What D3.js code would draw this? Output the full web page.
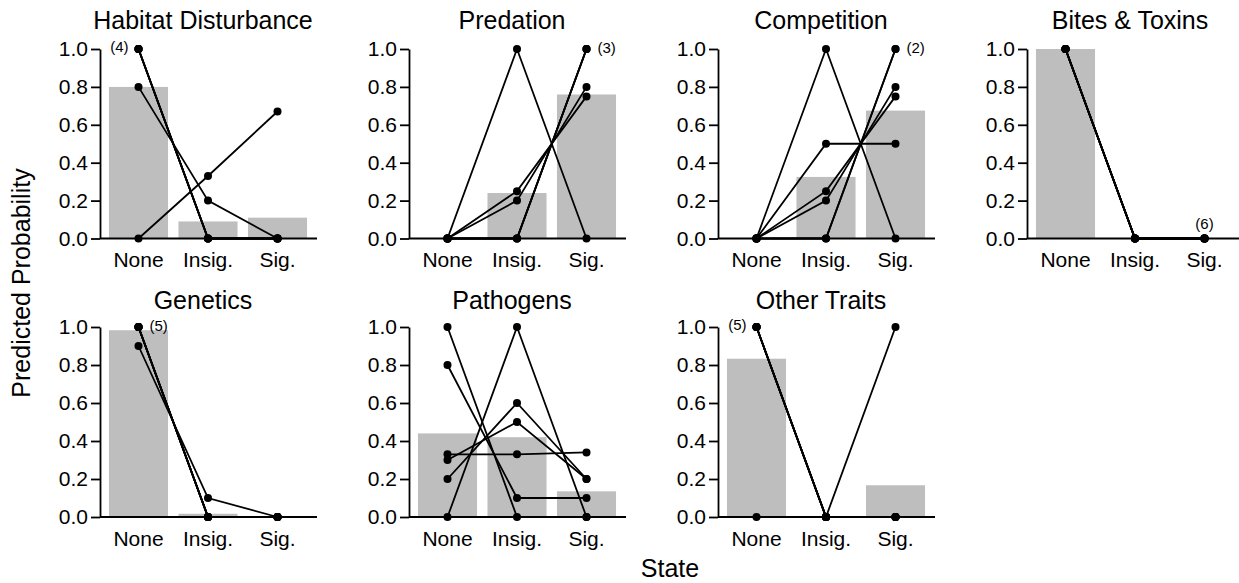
<!DOCTYPE html>
<html>
<head>
<meta charset="utf-8">
<script src="https://cdn.jsdelivr.net/npm/d3@7"></script>
<style>
  body { margin: 0; background: #fff; }
  text { font-family: "Liberation Sans", Arial, Helvetica, sans-serif; fill: #000; }
</style>
</head>
<body>
<svg id="chart" width="1239" height="583"></svg>
<script>
// states on the x axis
const states = ["None", "Insig.", "Sig."];
const yTicks = [0, 0.2, 0.4, 0.6, 0.8, 1.0];

const panelTitles = ["Habitat Disturbance", "Predation", "Competition", "Bites & Toxins",
                     "Genetics", "Pathogens", "Other Traits"];

// grey bars: mean predicted probability per state
const habitatMeans    = [0.80, 0.09, 0.11];
const predationMeans  = [0.00, 0.24, 0.76];
const competitionMeans= [0.00, 0.325, 0.675];
const bitesMeans      = [1.00, 0.00, 0.00];
const geneticsMeans   = [0.983, 0.017, 0.00];
const pathogensMeans  = [0.44, 0.42, 0.135];
const otherMeans      = [0.833, 0.00, 0.167];

// one row per species: probability of None / Insig. / Sig.
const habitatObs = [[1,0,0],[1,0,0],[1,0,0],[1,0,0],[0.8,0.2,0],[0,0.33,0.67]];
const predationObs = [[0,1,0],[0,0,1],[0,0,1],[0,0,1],[0,0.2,0.8],[0,0.25,0.75]];
const competitionObs = [[0,1,0],[0,0,1],[0,0,1],[0,0.5,0.5],[0,0.2,0.8],[0,0.25,0.75]];
const bitesObs = [[1,0,0],[1,0,0],[1,0,0],[1,0,0],[1,0,0],[1,0,0]];
const geneticsObs = [[1,0,0],[1,0,0],[1,0,0],[1,0,0],[1,0,0],[0.9,0.1,0]];
const pathogensObs = [[1,0,0],[0.8,0.1,0.1],[0.33,0.33,0.34],[0.3,0.5,0.2],[0.2,0.6,0.2],[0,1,0]];
const otherObs = [[1,0,0],[1,0,0],[1,0,0],[1,0,0],[1,0,0],[0,0,1]];

// count labels for stacked identical points
const habitatNote     = {state: "None", value: 1, label: "(4)", side: "left"};
const predationNote   = {state: "Sig.", value: 1, label: "(3)", side: "right"};
const competitionNote = {state: "Sig.", value: 1, label: "(2)", side: "right"};
const bitesNote       = {state: "Sig.", value: 0, label: "(6)", side: "top"};
const geneticsNote    = {state: "None", value: 1, label: "(5)", side: "right"};
const otherNote       = {state: "None", value: 1, label: "(5)", side: "left"};

const panels = [
  {title: panelTitles[0], means: habitatMeans, obs: habitatObs, note: habitatNote},
  {title: panelTitles[1], means: predationMeans, obs: predationObs, note: predationNote},
  {title: panelTitles[2], means: competitionMeans, obs: competitionObs, note: competitionNote},
  {title: panelTitles[3], means: bitesMeans, obs: bitesObs, note: bitesNote},
  {title: panelTitles[4], means: geneticsMeans, obs: geneticsObs, note: geneticsNote},
  {title: panelTitles[5], means: pathogensMeans, obs: pathogensObs, note: null},
  {title: panelTitles[6], means: otherMeans, obs: otherObs, note: otherNote}
];

const svg = d3.select("#chart");
const colStep = 309, firstAxisX = 100;
const rowTop = [49, 327], rowBottom = [238.5, 517];

const drawPanel = (p, i) => {
  const col = i % 4, row = Math.floor(i / 4);
  const ax = firstAxisX + col * colStep;

  const x = d3.scaleBand()
    .domain(states)
    .range([ax + 3.75, ax + 212.25])
    .paddingInner(0.15)
    .paddingOuter(0.075);
  const cx = (s) => x(s) + x.bandwidth() / 2;
  const y = d3.scaleLinear().domain([0, 1]).range([rowBottom[row], rowTop[row]]);

  const g = svg.append("g");

  g.append("text")
    .attr("x", ax + 103)
    .attr("y", row === 0 ? 29 : 309)
    .attr("text-anchor", "middle")
    .style("font-size", "25px")
    .text(p.title);

  g.selectAll("rect.bar")
    .data(p.means)
    .join("rect")
    .attr("class", "bar")
    .attr("x", (d, j) => x(states[j]))
    .attr("width", x.bandwidth())
    .attr("y", d => y(d))
    .attr("height", d => y(0) - y(d))
    .attr("fill", "#bebebe");

  // y axis
  const ya = g.append("g")
    .attr("transform", `translate(${ax},0)`)
    .call(d3.axisLeft(y).tickValues(yTicks).tickFormat(d3.format(".1f"))
      .tickSize(9).tickSizeOuter(0).tickPadding(3));
  ya.selectAll("path, line").attr("stroke", "#000").attr("stroke-width", 1.8);
  ya.selectAll("text").style("font-size", "21px");

  // x axis: labels only, plus a plain baseline
  const xa = g.append("g")
    .attr("transform", `translate(0,${y(0)})`)
    .call(d3.axisBottom(x).tickSize(0).tickPadding(14));
  xa.select(".domain").remove();
  xa.selectAll("text").style("font-size", "21px");
  g.append("line")
    .attr("x1", ax).attr("x2", ax + 217)
    .attr("y1", y(0)).attr("y2", y(0))
    .attr("stroke", "#000").attr("stroke-width", 1.8);

  const line = d3.line()
    .x((d, j) => cx(states[j]))
    .y(d => y(d));

  g.selectAll("path.obs")
    .data(p.obs)
    .join("path")
    .attr("class", "obs")
    .attr("d", line)
    .attr("fill", "none")
    .attr("stroke", "#000")
    .attr("stroke-width", 1.8);

  const pts = p.obs.flatMap(o => o.map((v, j) => ({s: states[j], v})));
  g.selectAll("circle")
    .data(pts)
    .join("circle")
    .attr("cx", d => cx(d.s))
    .attr("cy", d => y(d.v))
    .attr("r", 4)
    .attr("fill", "#000");

  if (p.note) {
    const n = p.note;
    const t = g.append("text").style("font-size", "15px").text(n.label);
    if (n.side === "left") {
      t.attr("x", cx(n.state) - 10).attr("y", y(n.value) - 2)
        .attr("dy", "0.32em").attr("text-anchor", "end");
    } else if (n.side === "right") {
      t.attr("x", cx(n.state) + 11).attr("y", y(n.value) - 1)
        .attr("dy", "0.32em").attr("text-anchor", "start");
    } else {
      t.attr("x", cx(n.state)).attr("y", y(n.value) - 10)
        .attr("text-anchor", "middle");
    }
  }
};

panels.forEach(drawPanel);

svg.append("text")
  .attr("transform", "translate(30,283) rotate(-90)")
  .attr("text-anchor", "middle")
  .style("font-size", "25px")
  .text("Predicted Probability");

svg.append("text")
  .attr("x", 670)
  .attr("y", 577)
  .attr("text-anchor", "middle")
  .style("font-size", "25px")
  .text("State");
</script>
</body>
</html>
